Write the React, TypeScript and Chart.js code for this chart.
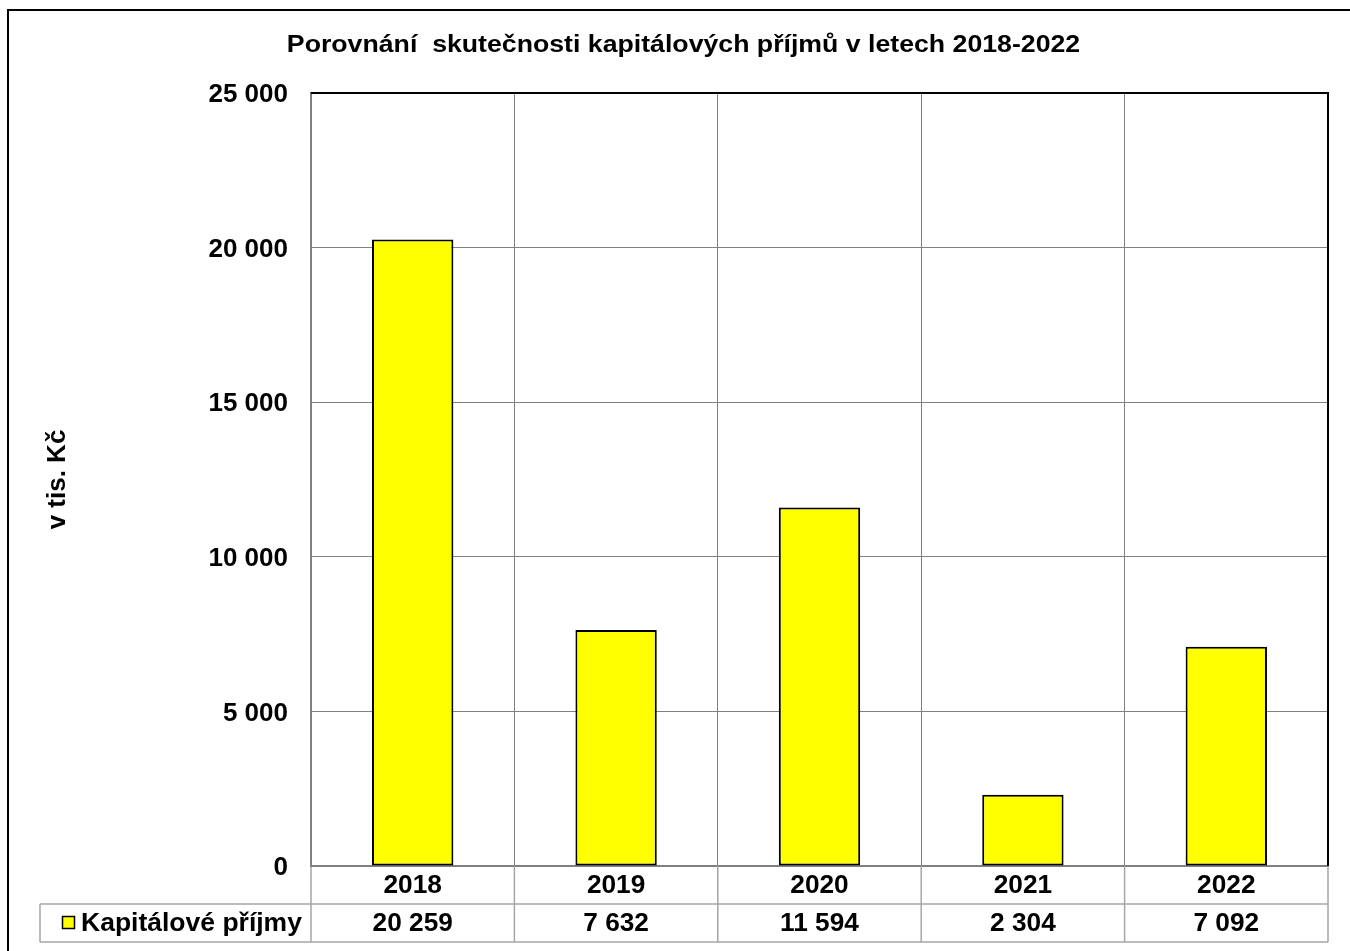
import React, { useEffect, useRef } from "react";
import { Chart, registerables } from "chart.js";

Chart.register(...registerables);

const TITLE = "Porovnání  skutečnosti kapitálových příjmů v letech 2018-2022";
const Y_TITLE = "v tis. Kč";
const SERIES_LABEL = "Kapitálové příjmy";
const YEARS = ["2018", "2019", "2020", "2021", "2022"];
const VALUES = [20259, 7632, 11594, 2304, 7092];
const Y_MIN = 0;
const Y_MAX = 25000;
const Y_STEP = 5000;

const FONT = "Arial, 'Liberation Sans', sans-serif";
const BAR_COLOR = "#FFFF00";

const fmt = (v: number) => String(v).replace(/\B(?=(\d{3})+(?!\d))/g, " ");

// draws text slightly widened horizontally (the original chart's text is stretched)
const wideText = (ctx: any, text: string, x: number, y: number, sx: number) => {
  ctx.save();
  ctx.translate(x, y);
  ctx.scale(sx, 1);
  ctx.fillText(text, 0, 0);
  ctx.restore();
};

const framePlugin = {
  id: "frame",
  beforeDraw(chart: any) {
    const { ctx, width, height } = chart;
    ctx.save();
    ctx.fillStyle = "#ffffff";
    ctx.fillRect(0, 0, width, height);
    ctx.strokeStyle = "#000000";
    ctx.lineWidth = 2;
    ctx.beginPath();
    ctx.moveTo(8, height + 5);
    ctx.lineTo(8, 10);
    ctx.lineTo(width + 5, 10);
    ctx.stroke();
    ctx.restore();
  },
  afterDraw(chart: any) {
    const { ctx } = chart;
    const { left, right, top, bottom } = chart.chartArea;
    const xs = chart.scales.x;
    ctx.save();
    // plot area top / right border
    ctx.strokeStyle = "#000000";
    ctx.lineWidth = 2;
    ctx.beginPath();
    ctx.moveTo(left, top);
    ctx.lineTo(right, top);
    ctx.lineTo(right, bottom);
    ctx.stroke();

    // data table
    const n = YEARS.length;
    const half = n > 1 ? (xs.getPixelForValue(1) - xs.getPixelForValue(0)) / 2 : (right - left) / 2;
    const rowH = 38;
    const r1 = bottom;
    const r2 = bottom + rowH;
    const r3 = bottom + rowH * 2;
    const legendLeft = 40;
    ctx.strokeStyle = "#a6a6a6";
    ctx.lineWidth = 1.5;
    ctx.beginPath();
    for (let i = 0; i < n; i++) {
      const c = xs.getPixelForValue(i);
      const b = c + half;
      ctx.moveTo(b, r1);
      ctx.lineTo(b, r3);
    }
    ctx.moveTo(left, r1 + 1);
    ctx.lineTo(left, r3);
    ctx.moveTo(legendLeft, r2);
    ctx.lineTo(right, r2);
    ctx.moveTo(legendLeft, r3);
    ctx.lineTo(right, r3);
    ctx.moveTo(legendLeft, r2);
    ctx.lineTo(legendLeft, r3);
    ctx.stroke();

    ctx.fillStyle = "#000000";
    ctx.font = `bold 25px ${FONT}`;
    ctx.textAlign = "center";
    ctx.textBaseline = "middle";
    for (let i = 0; i < n; i++) {
      const c = xs.getPixelForValue(i);
      wideText(ctx, YEARS[i], c, (r1 + r2) / 2 + 1, 1.05);
      wideText(ctx, fmt(VALUES[i]), c, (r2 + r3) / 2 + 1, 1.05);
    }

    // legend key
    ctx.fillStyle = BAR_COLOR;
    ctx.fillRect(62.5, 916.5, 12, 12);
    ctx.strokeStyle = "#000000";
    ctx.lineWidth = 1.5;
    ctx.strokeRect(62.5, 916.5, 12, 12);
    ctx.fillStyle = "#000000";
    ctx.textAlign = "left";
    wideText(ctx, SERIES_LABEL, 81, (r2 + r3) / 2 + 1, 1.06);

    // chart title
    ctx.font = `bold 23px ${FONT}`;
    ctx.textAlign = "center";
    wideText(ctx, TITLE, 683.5, 46, 1.16);
    ctx.restore();
  },
};

export default function App() {
  const ref = useRef<HTMLCanvasElement | null>(null);

  useEffect(() => {
    if (!ref.current) return;
    const chart = new Chart(ref.current, {
      type: "bar",
      data: {
        labels: YEARS,
        datasets: [
          {
            label: SERIES_LABEL,
            data: VALUES,
            backgroundColor: BAR_COLOR,
            borderColor: "#000000",
            borderWidth: 2,
            borderSkipped: false,
            barPercentage: 0.4,
            categoryPercentage: 1,
          },
        ],
      },
      options: {
        responsive: false,
        animation: false,
        layout: { padding: { top: 93, right: 22, left: 0, bottom: 0 } },
        plugins: {
          legend: { display: false },
          tooltip: { enabled: false },
          title: { display: false },
        },
        scales: {
          x: {
            offset: true,
            grid: { offset: true, color: "#808080", lineWidth: 1, drawTicks: false },
            border: { display: true, color: "#808080", width: 2 },
            ticks: { display: false },
            afterFit: (scale: any) => {
              scale.height = 85;
            },
          },
          y: {
            min: Y_MIN,
            max: Y_MAX,
            ticks: {
              stepSize: Y_STEP,
              padding: 23,
              labelOffset: 2,
              color: "#000000",
              font: { family: FONT, size: 26, weight: "bold" },
              callback: (v: any) => fmt(Number(v)),
            },
            grid: { color: "#808080", lineWidth: 1, drawTicks: false },
            border: { display: true, color: "#808080", width: 2 },
            title: {
              display: true,
              text: Y_TITLE,
              color: "#000000",
              font: { family: FONT, size: 26, weight: "bold" },
              padding: { top: 42, bottom: 0 },
            },
            afterFit: (scale: any) => {
              scale.width = 311;
            },
          },
        },
      },
      plugins: [framePlugin],
    });
    return () => chart.destroy();
  }, []);

  return (
    <div style={{ position: "fixed", top: 0, left: 0, width: 1350, height: 951, background: "#fff" }}>
      <canvas ref={ref} width={1350} height={951} style={{ display: "block" }} />
    </div>
  );
}
